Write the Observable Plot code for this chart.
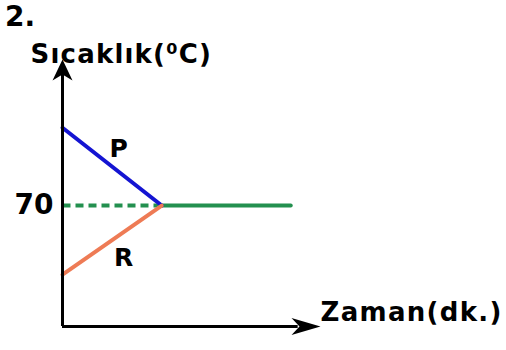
<!DOCTYPE html>
<html>
<head>
<meta charset="utf-8">
<script src="https://cdn.jsdelivr.net/npm/d3@7"></script>
<script src="https://cdn.jsdelivr.net/npm/@observablehq/plot@0.6"></script>
<style>
  html, body { margin: 0; padding: 0; background: #fff; }
  #wrap { position: relative; width: 506px; height: 350px; }
  #num { position: absolute; left: 5px; top: 3px; font: bold 28px/28px "DejaVu Sans", sans-serif; color: #000; z-index: 2; }
</style>
</head>
<body>
<div id="wrap"><div id="num">2.</div></div>
<script>
// Data (schematic temperature-time graph)
const pTime = [0, 4];
const pTemp = [115, 70];
const rTime = [0, 4];
const rTemp = [30, 70];
const dashTime = [0, 4];
const dashTemp = [70, 70];
const eqTime = [4, 9.2];
const eqTemp = [70, 70];
const yTicks = [70];
const xMax = 10.4;
const yMax = 154.5;
const labelNames = ["P", "R"];
const labelTime = [2.26, 2.46];
const labelTemp = [103, 39.5];
const yTitle = "Sıcaklık(⁰C)";
const xTitle = "Zaman(dk.)";

const toRows = (xs, ys) => xs.map((x, i) => ({x, y: ys[i]}));

const arrowUp = {draw(ctx) { ctx.moveTo(0, 0); ctx.lineTo(-10, 21); ctx.lineTo(0, 15); ctx.lineTo(10, 21); ctx.closePath(); }};
const arrowRight = {draw(ctx) { ctx.moveTo(0, 0); ctx.lineTo(-29, -8.5); ctx.lineTo(-21, 0); ctx.lineTo(-29, 8.5); ctx.closePath(); }};

const font = "DejaVu Sans, sans-serif";

const chart = Plot.plot({
  width: 506,
  height: 350,
  marginLeft: 62,
  marginRight: 186,
  marginTop: 59,
  marginBottom: 24,
  style: {fontFamily: font, background: "transparent", overflow: "visible"},
  x: {domain: [0, xMax], axis: null},
  y: {domain: [0, yMax]},
  marks: [
    Plot.axisY(yTicks, {tickSize: 0, tickPadding: 9, fontSize: 28, fontWeight: "bold", fill: "#000", label: null}),
    Plot.line(toRows(dashTime, dashTemp), {x: "x", y: "y", stroke: "#23904f", strokeWidth: 4, strokeDasharray: "8,5", strokeLinecap: "butt"}),
    Plot.line(toRows(eqTime, eqTemp), {x: "x", y: "y", stroke: "#23904f", strokeWidth: 4}),
    Plot.line(toRows(pTime, pTemp), {x: "x", y: "y", stroke: "#1414d2", strokeWidth: 4}),
    Plot.line(toRows(rTime, rTemp), {x: "x", y: "y", stroke: "#ee7b55", strokeWidth: 4}),
    Plot.ruleX([0], {y1: 0, y2: yMax - 8, stroke: "#000", strokeWidth: 3}),
    Plot.ruleY([0], {x1: 0, x2: xMax - 0.9, stroke: "#000", strokeWidth: 3}),
    Plot.dot([{x: 0, y: yMax}], {x: "x", y: "y", symbol: arrowUp, r: 10, fill: "#000", stroke: null}),
    Plot.dot([{x: xMax, y: 0}], {x: "x", y: "y", symbol: arrowRight, r: 10, fill: "#000", stroke: null}),
    Plot.text(labelNames, {x: (d, i) => labelTime[i], y: (d, i) => labelTemp[i], text: d => d, fontSize: 25, fontWeight: "bold", fill: "#000"}),
    Plot.text([yTitle], {frameAnchor: "top-left", textAnchor: "start", dx: -32, dy: -15, fontSize: 26, fontWeight: "bold", fill: "#000"}),
    Plot.text([xTitle], {frameAnchor: "bottom-right", textAnchor: "start", dx: 0, dy: -6, fontSize: 26, fontWeight: "bold", fill: "#000"})
  ]
});
d3.select(chart).selectAll("text").each(function () {
  const t = this.textContent;
  if (t === yTitle) this.style.letterSpacing = "1.2px";
  if (t === xTitle) this.style.letterSpacing = "1.3px";
});
document.getElementById("wrap").appendChild(chart);
chart.style.position = "absolute";
chart.style.left = "0";
chart.style.top = "0";
</script>
</body>
</html>
